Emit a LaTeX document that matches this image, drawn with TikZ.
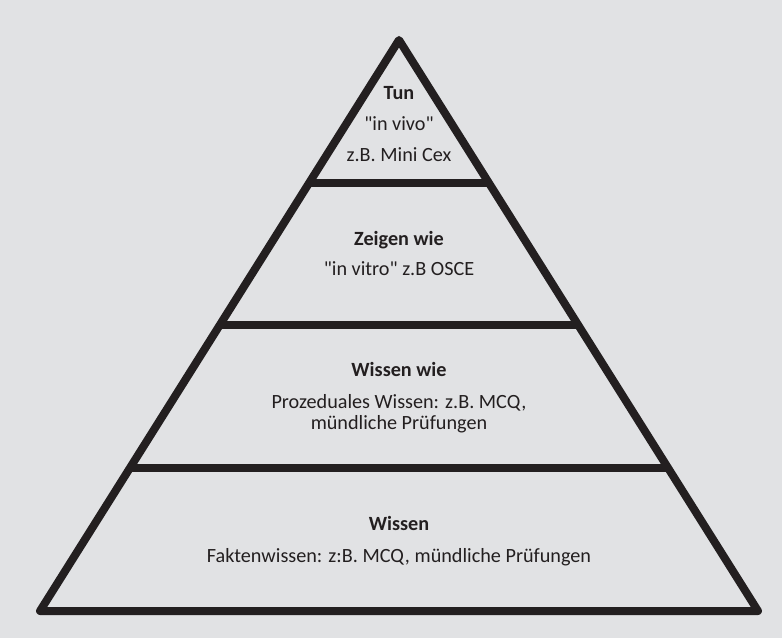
\documentclass[tikz,border=0pt]{standalone}
\usepackage{fontspec}
\setmainfont{Carlito}[Ligatures=TeXOff]
\usepackage{xcolor}
\usetikzlibrary{calc}
\definecolor{mygray}{RGB}{225, 226, 228}
\definecolor{myblack}{RGB}{35, 31, 32}

\begin{document}
\begin{tikzpicture}[x=1pt, y=1pt,
  desc/.style={text=myblack, font=\fontsize{20.2}{22}\selectfont, align=center, anchor=base, inner sep=0pt},
  head/.style={desc, font=\fontsize{20.2}{22}\selectfont\bfseries}]
  \useasboundingbox (0,0) rectangle (782,638);
  \fill[mygray] (0,0) rectangle (782,638);

  \coordinate (top) at (399,598);
  \coordinate (left) at (40,27);
  \coordinate (right) at (758,27);

  \draw[myblack, line width=8pt, line join=round] (left) -- (top) -- (right) -- cycle;
  \foreach \i [evaluate={\f=\i/4;}] in {1,2,3}{
    \draw[myblack, line width=8pt] ($(left)!\f!(top)$) -- ($(right)!\f!(top)$);
  }

  % Tun
  \node[head] (tun) at (399,538) {Tun};
  \node[desc] (tunA) at (399,507) {"in vivo"};
  \node[desc] (tunB) at (399,476) {z.B. Mini Cex};
  % Zeigen wie
  \node[head] (zeigen) at (399,392) {Zeigen wie};
  \node[desc] (zeigenA) at (399,362) {"in vitro" z.B OSCE};
  % Wissen wie (base = last line)
  \node[head] (wissenwie) at (399,261) {Wissen wie};
  \node[desc] (wissenwieA) at (399,208) {Prozeduales Wissen: z.B. MCQ,\\mündliche Prüfungen};
  % Wissen
  \node[head] (wissen) at (399,108) {Wissen};
  \node[desc] (wissenA) at (399,76) {Faktenwissen: z:B. MCQ, mündliche Prüfungen};
\end{tikzpicture}
\end{document}
